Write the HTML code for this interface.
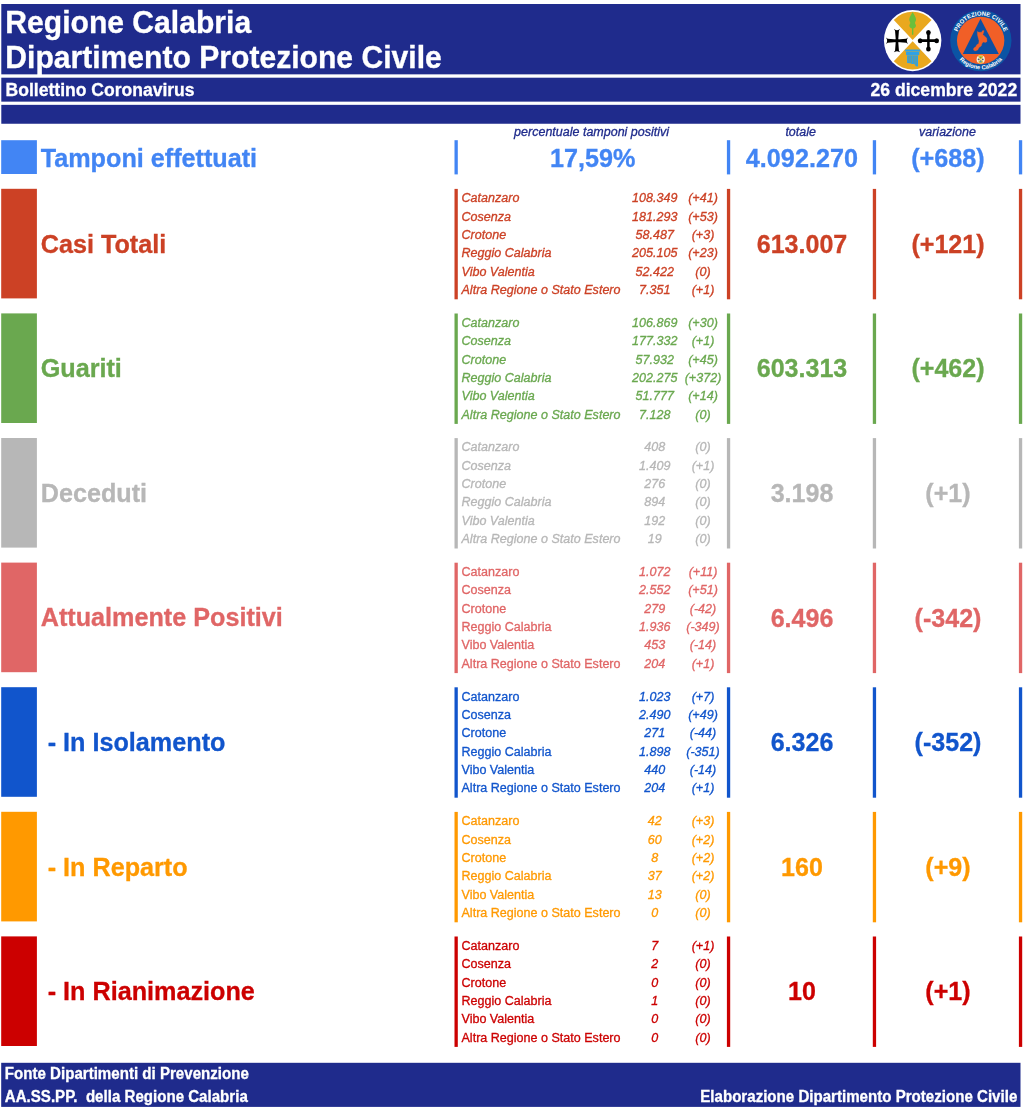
<!DOCTYPE html>
<html lang="it"><head><meta charset="utf-8"><title>Bollettino Coronavirus - Regione Calabria</title>
<style>
html,body{margin:0;padding:0;background:#fff;overflow:hidden;}
body{width:1024px;height:1108px;position:relative;overflow:hidden;font-family:"Liberation Sans",sans-serif;}
#bg{position:absolute;left:0;top:0;}
#tx{position:absolute;left:0;top:0;width:1024px;height:1108px;overflow:hidden;will-change:transform;}
.t{position:absolute;white-space:nowrap;transform-origin:0 0;}
</style></head><body>
<svg id="bg" width="1024" height="1108" viewBox="0 0 1024 1108">
<rect x="1.30" y="4.00" width="1019.20" height="70.35" fill="#1f2b8c"/>
<rect x="1.30" y="77.70" width="1019.20" height="23.95" fill="#1f2b8c"/>
<rect x="1.30" y="104.85" width="1019.20" height="18.90" fill="#1f2b8c"/>
<rect x="1.20" y="140.20" width="35.70" height="33.80" fill="#4285f4"/>
<rect x="454.50" y="140.20" width="3.30" height="34.20" fill="#4285f4"/>
<rect x="726.90" y="140.20" width="3.30" height="34.20" fill="#4285f4"/>
<rect x="872.80" y="140.20" width="3.30" height="34.20" fill="#4285f4"/>
<rect x="1018.90" y="140.20" width="3.30" height="34.20" fill="#4285f4"/>
<rect x="1.20" y="188.80" width="35.70" height="109.60" fill="#cc4125"/>
<rect x="454.50" y="188.90" width="3.30" height="110.40" fill="#cc4125"/>
<rect x="726.90" y="188.90" width="3.30" height="110.40" fill="#cc4125"/>
<rect x="872.80" y="188.90" width="3.30" height="110.40" fill="#cc4125"/>
<rect x="1018.90" y="188.90" width="3.30" height="110.40" fill="#cc4125"/>
<rect x="1.20" y="313.40" width="35.70" height="109.60" fill="#6aa84f"/>
<rect x="454.50" y="313.50" width="3.30" height="110.40" fill="#6aa84f"/>
<rect x="726.90" y="313.50" width="3.30" height="110.40" fill="#6aa84f"/>
<rect x="872.80" y="313.50" width="3.30" height="110.40" fill="#6aa84f"/>
<rect x="1018.90" y="313.50" width="3.30" height="110.40" fill="#6aa84f"/>
<rect x="1.20" y="438.00" width="35.70" height="109.60" fill="#b7b7b7"/>
<rect x="454.50" y="438.10" width="3.30" height="110.40" fill="#b7b7b7"/>
<rect x="726.90" y="438.10" width="3.30" height="110.40" fill="#b7b7b7"/>
<rect x="872.80" y="438.10" width="3.30" height="110.40" fill="#b7b7b7"/>
<rect x="1018.90" y="438.10" width="3.30" height="110.40" fill="#b7b7b7"/>
<rect x="1.20" y="562.60" width="35.70" height="109.60" fill="#e06666"/>
<rect x="454.50" y="562.70" width="3.30" height="110.40" fill="#e06666"/>
<rect x="726.90" y="562.70" width="3.30" height="110.40" fill="#e06666"/>
<rect x="872.80" y="562.70" width="3.30" height="110.40" fill="#e06666"/>
<rect x="1018.90" y="562.70" width="3.30" height="110.40" fill="#e06666"/>
<rect x="1.20" y="687.20" width="35.70" height="109.60" fill="#1155cc"/>
<rect x="454.50" y="687.30" width="3.30" height="110.40" fill="#1155cc"/>
<rect x="726.90" y="687.30" width="3.30" height="110.40" fill="#1155cc"/>
<rect x="872.80" y="687.30" width="3.30" height="110.40" fill="#1155cc"/>
<rect x="1018.90" y="687.30" width="3.30" height="110.40" fill="#1155cc"/>
<rect x="1.20" y="811.80" width="35.70" height="109.60" fill="#ff9900"/>
<rect x="454.50" y="811.90" width="3.30" height="110.40" fill="#ff9900"/>
<rect x="726.90" y="811.90" width="3.30" height="110.40" fill="#ff9900"/>
<rect x="872.80" y="811.90" width="3.30" height="110.40" fill="#ff9900"/>
<rect x="1018.90" y="811.90" width="3.30" height="110.40" fill="#ff9900"/>
<rect x="1.20" y="936.40" width="35.70" height="109.60" fill="#cc0000"/>
<rect x="454.50" y="936.50" width="3.30" height="110.40" fill="#cc0000"/>
<rect x="726.90" y="936.50" width="3.30" height="110.40" fill="#cc0000"/>
<rect x="872.80" y="936.50" width="3.30" height="110.40" fill="#cc0000"/>
<rect x="1018.90" y="936.50" width="3.30" height="110.40" fill="#cc0000"/>
<rect x="1.20" y="1062.80" width="1019.30" height="44.10" fill="#1f2b8c"/>
<g transform="translate(912.65,40.6) scale(0.938,1)">
<ellipse cx="0" cy="0" rx="30.6" ry="30.6" fill="#fff"/>
<path d="M0,-0.6 L-20.1,-20.7 A28.6,28.6 0 0 1 20.1,-20.7 Z" fill="#e9a81e"/>
<path d="M0,0.6 L-20.1,20.7 A28.6,28.6 0 0 0 20.1,20.7 Z" fill="#e9a81e"/>
<path d="M0,-28.6 C1.2,-26.4 3.7,-23.4 3.6,-21.2 C3.5,-19.4 2.5,-18.6 2.5,-17.7 C2.5,-16.9 3.6,-16.2 3.5,-14.8 C3.4,-13 1.6,-12.3 0.75,-12.1 L0.75,-5.8 L-0.75,-5.8 L-0.75,-12.1 C-1.6,-12.3 -3.4,-13 -3.5,-14.8 C-3.6,-16.2 -2.5,-16.9 -2.5,-17.7 C-2.5,-18.6 -3.5,-19.4 -3.6,-21.2 C-3.7,-23.4 -1.2,-26.4 0,-28.6 Z" fill="#6abf3b"/>
<g transform="translate(-16.7,0.1)" fill="#000"><path transform="rotate(0)" d="M0,-1.25 L9.9,-2.05 L11.6,-3.3 L10.7,-1.3 L10.5,0 L10.7,1.3 L11.6,3.3 L9.9,2.05 L0,1.25 Z"/><path transform="rotate(90)" d="M0,-1.25 L9.9,-2.05 L11.6,-3.3 L10.7,-1.3 L10.5,0 L10.7,1.3 L11.6,3.3 L9.9,2.05 L0,1.25 Z"/><path transform="rotate(180)" d="M0,-1.25 L9.9,-2.05 L11.6,-3.3 L10.7,-1.3 L10.5,0 L10.7,1.3 L11.6,3.3 L9.9,2.05 L0,1.25 Z"/><path transform="rotate(270)" d="M0,-1.25 L9.9,-2.05 L11.6,-3.3 L10.7,-1.3 L10.5,0 L10.7,1.3 L11.6,3.3 L9.9,2.05 L0,1.25 Z"/><circle r="1.9"/></g>
<g transform="translate(16.8,0.1)" fill="#000" stroke="#000">
<path d="M-8.6,0 L8.6,0 M0,-8.2 L0,8.2" stroke-width="2.7" fill="none"/>
<circle cx="-8.8" cy="0" r="2.5" stroke="none"/><circle cx="8.8" cy="0" r="2.5" stroke="none"/>
<circle cx="0" cy="-8.3" r="2.5" stroke="none"/><circle cx="0" cy="8.3" r="2.5" stroke="none"/>
</g>
<path d="M-7.9,9.0 L7.9,9.0 L7.9,10.9 L7.0,11.1 L7.0,14.4 L5.7,14.7 L5.7,25.9 L3.4,25.6 L1.8,23.5 L-0.6,23.3 L-2.6,22.6 L-5.9,22.3 L-5.9,14.7 L-7.0,14.4 L-7.0,11.1 L-7.9,10.9 Z" fill="#2da2e8"/><path d="M-7.6,10.9 L7.6,10.9" stroke="#b9a854" stroke-width="0.55"/><path d="M-6.2,14.75 L6.2,14.75" stroke="#b9a854" stroke-width="0.5"/>
<path d="M-3.9,15.4 L-3.9,21.8 M-1.4,15.4 L-1.4,22.4 M1.2,15.4 L1.2,22.8 M3.6,15.4 L3.6,24.6" stroke="#7d9b7a" stroke-width="0.9" fill="none"/>
</g>
<g transform="translate(980.85,40.6)">
<circle cx="0" cy="0" r="30.65" fill="#0b54a4"/>
<circle cx="-0.2" cy="-0.1" r="23.7" fill="#f15f27"/>
<path d="M-0.35,-21.8 L17.95,13.4 L-18.05,13.4 Z" fill="#0d4fa1"/>
<path d="M-3.52,-9.07 L-1.91,-8.37 L0.67,-8.37 L1.83,-10.04 L3.24,-9.91 L2.66,-7.79 L2.02,-6.17 L3.63,-4.56 L5.82,-2.63 L6.21,0.92 L4.53,2.01 L2.34,1.37 L1.05,3.24 L0.41,5.43 L-1.78,6.85 L-3.07,9.29 L-5.78,10.46 L-7.39,9.42 L-7.07,7.49 L-5.13,6.07 L-4.10,4.14 L-2.17,2.85 L-1.85,0.27 L-2.56,-2.31 L-3.39,-5.53 Z" fill="#f15f27" stroke="#f15f27" stroke-width="0.3" stroke-linejoin="round"/>
<g transform="translate(-0.15,18.8)">
<circle r="4.1" fill="#f4f1e4"/>
<path d="M0,0 L-2.7,-2.7 A3.8,3.8 0 0 1 2.7,-2.7 Z M0,0 L-2.7,2.7 A3.8,3.8 0 0 0 2.7,2.7 Z" fill="#e3b52a"/>
<circle cx="0" cy="-1.9" r="0.8" fill="#5aa54a"/><circle cx="0" cy="2" r="0.9" fill="#3d8fc4"/>
<path d="M-3,0 L-1,0 M1,0 L3,0 M-2,-1 L-2,1 M2,-1 L2,1" stroke="#333" stroke-width="0.6"/>
</g>
<path id="arcT" d="M-23.1,-9.35 A24.9,24.9 0 0 1 23.1,-9.35" fill="none"/>
<path id="arcB" d="M-24.9,14.4 A28.8,28.8 0 0 0 24.9,14.4" fill="none"/>
<text font-family="Liberation Sans, sans-serif" font-weight="bold" font-size="6.0" fill="#fff" letter-spacing="0"><textPath href="#arcT" startOffset="50%" text-anchor="middle">PROTEZIONE CIVILE</textPath></text>
<text font-family="Liberation Sans, sans-serif" font-weight="bold" font-size="5.9" fill="#fff"><textPath href="#arcB" startOffset="50%" text-anchor="middle">Regione Calabria</textPath></text>
</g>

</svg>
<div id="tx">
<div class="t" style="left:5.30px;top:4.16px;width:400px;font-size:30.1px;line-height:36.12px;color:#fff;font-weight:bold;font-style:normal;text-align:left;transform:scaleY(1.03);-webkit-text-stroke:0.3px #fff;">Regione Calabria</div>
<div class="t" style="left:5.30px;top:39.36px;width:600px;font-size:30.1px;line-height:36.12px;color:#fff;font-weight:bold;font-style:normal;text-align:left;transform:scaleY(1.03);-webkit-text-stroke:0.3px #fff;">Dipartimento Protezione Civile</div>
<div class="t" style="left:5.60px;top:78.84px;width:400px;font-size:17.55px;line-height:21.06px;color:#fff;font-weight:bold;font-style:normal;text-align:left;transform:scaleY(1.045);-webkit-text-stroke:0.3px #fff;">Bollettino Coronavirus</div>
<div class="t" style="left:617.20px;top:78.89px;width:400px;font-size:17.6px;line-height:21.12px;color:#fff;font-weight:bold;font-style:normal;text-align:right;transform:scaleY(1.045);-webkit-text-stroke:0.3px #fff;">26 dicembre 2022</div>
<div class="t" style="left:391.60px;top:124.74px;width:400px;font-size:12.5px;line-height:15.00px;color:#1f2b8c;font-weight:normal;font-style:italic;text-align:center;transform:scaleY(1.045);-webkit-text-stroke:0.3px #1f2b8c;">percentuale tamponi positivi</div>
<div class="t" style="left:600.70px;top:124.74px;width:400px;font-size:12.5px;line-height:15.00px;color:#1f2b8c;font-weight:normal;font-style:italic;text-align:center;transform:scaleY(1.045);-webkit-text-stroke:0.3px #1f2b8c;">totale</div>
<div class="t" style="left:747.50px;top:124.74px;width:400px;font-size:12.5px;line-height:15.00px;color:#1f2b8c;font-weight:normal;font-style:italic;text-align:center;transform:scaleY(1.045);-webkit-text-stroke:0.3px #1f2b8c;">variazione</div>
<div class="t" style="left:40.70px;top:141.77px;width:400px;font-size:25.2px;line-height:30.24px;color:#4285f4;font-weight:bold;font-style:normal;text-align:left;transform:scaleY(1.045);-webkit-text-stroke:0.3px #4285f4;">Tamponi effettuati</div>
<div class="t" style="left:392.80px;top:141.67px;width:400px;font-size:25.2px;line-height:30.24px;color:#4285f4;font-weight:bold;font-style:normal;text-align:center;transform:scaleY(1.045);-webkit-text-stroke:0.3px #4285f4;">17,59%</div>
<div class="t" style="left:601.90px;top:141.67px;width:400px;font-size:25.2px;line-height:30.24px;color:#4285f4;font-weight:bold;font-style:normal;text-align:center;transform:scaleY(1.045);-webkit-text-stroke:0.3px #4285f4;">4.092.270</div>
<div class="t" style="left:748.00px;top:141.67px;width:400px;font-size:25.2px;line-height:30.24px;color:#4285f4;font-weight:bold;font-style:normal;text-align:center;transform:scaleY(1.045);-webkit-text-stroke:0.3px #4285f4;">(+688)</div>
<div class="t" style="left:40.70px;top:227.67px;width:400px;font-size:25.2px;line-height:30.24px;color:#cc4125;font-weight:bold;font-style:normal;text-align:left;transform:scaleY(1.045);-webkit-text-stroke:0.3px #cc4125;">Casi Totali</div>
<div class="t" style="left:602.00px;top:227.82px;width:400px;font-size:25.05px;line-height:30.06px;color:#cc4125;font-weight:bold;font-style:normal;text-align:center;transform:scaleY(1.045);-webkit-text-stroke:0.3px #cc4125;">613.007</div>
<div class="t" style="left:748.00px;top:227.77px;width:400px;font-size:25.1px;line-height:30.12px;color:#cc4125;font-weight:bold;font-style:normal;text-align:center;transform:scaleY(1.045);-webkit-text-stroke:0.3px #cc4125;">(+121)</div>
<div class="t" style="left:461.50px;top:191.19px;width:400px;font-size:12.55px;line-height:15.06px;color:#cc4125;font-weight:normal;font-style:italic;text-align:left;transform:scaleY(1.045);-webkit-text-stroke:0.3px #cc4125;">Catanzaro</div>
<div class="t" style="left:604.70px;top:191.19px;width:100px;font-size:12.55px;line-height:15.06px;color:#cc4125;font-weight:normal;font-style:italic;text-align:center;transform:scaleY(1.045);-webkit-text-stroke:0.3px #cc4125;">108.349</div>
<div class="t" style="left:653.00px;top:191.19px;width:100px;font-size:12.55px;line-height:15.06px;color:#cc4125;font-weight:normal;font-style:italic;text-align:center;transform:scaleY(1.045);-webkit-text-stroke:0.3px #cc4125;">(+41)</div>
<div class="t" style="left:461.50px;top:209.55px;width:400px;font-size:12.55px;line-height:15.06px;color:#cc4125;font-weight:normal;font-style:italic;text-align:left;transform:scaleY(1.045);-webkit-text-stroke:0.3px #cc4125;">Cosenza</div>
<div class="t" style="left:604.70px;top:209.55px;width:100px;font-size:12.55px;line-height:15.06px;color:#cc4125;font-weight:normal;font-style:italic;text-align:center;transform:scaleY(1.045);-webkit-text-stroke:0.3px #cc4125;">181.293</div>
<div class="t" style="left:653.00px;top:209.55px;width:100px;font-size:12.55px;line-height:15.06px;color:#cc4125;font-weight:normal;font-style:italic;text-align:center;transform:scaleY(1.045);-webkit-text-stroke:0.3px #cc4125;">(+53)</div>
<div class="t" style="left:461.50px;top:227.91px;width:400px;font-size:12.55px;line-height:15.06px;color:#cc4125;font-weight:normal;font-style:italic;text-align:left;transform:scaleY(1.045);-webkit-text-stroke:0.3px #cc4125;">Crotone</div>
<div class="t" style="left:604.70px;top:227.91px;width:100px;font-size:12.55px;line-height:15.06px;color:#cc4125;font-weight:normal;font-style:italic;text-align:center;transform:scaleY(1.045);-webkit-text-stroke:0.3px #cc4125;">58.487</div>
<div class="t" style="left:653.00px;top:227.91px;width:100px;font-size:12.55px;line-height:15.06px;color:#cc4125;font-weight:normal;font-style:italic;text-align:center;transform:scaleY(1.045);-webkit-text-stroke:0.3px #cc4125;">(+3)</div>
<div class="t" style="left:461.50px;top:246.27px;width:400px;font-size:12.55px;line-height:15.06px;color:#cc4125;font-weight:normal;font-style:italic;text-align:left;transform:scaleY(1.045);-webkit-text-stroke:0.3px #cc4125;">Reggio Calabria</div>
<div class="t" style="left:604.70px;top:246.27px;width:100px;font-size:12.55px;line-height:15.06px;color:#cc4125;font-weight:normal;font-style:italic;text-align:center;transform:scaleY(1.045);-webkit-text-stroke:0.3px #cc4125;">205.105</div>
<div class="t" style="left:653.00px;top:246.27px;width:100px;font-size:12.55px;line-height:15.06px;color:#cc4125;font-weight:normal;font-style:italic;text-align:center;transform:scaleY(1.045);-webkit-text-stroke:0.3px #cc4125;">(+23)</div>
<div class="t" style="left:461.50px;top:264.63px;width:400px;font-size:12.55px;line-height:15.06px;color:#cc4125;font-weight:normal;font-style:italic;text-align:left;transform:scaleY(1.045);-webkit-text-stroke:0.3px #cc4125;">Vibo Valentia</div>
<div class="t" style="left:604.70px;top:264.63px;width:100px;font-size:12.55px;line-height:15.06px;color:#cc4125;font-weight:normal;font-style:italic;text-align:center;transform:scaleY(1.045);-webkit-text-stroke:0.3px #cc4125;">52.422</div>
<div class="t" style="left:653.00px;top:264.63px;width:100px;font-size:12.55px;line-height:15.06px;color:#cc4125;font-weight:normal;font-style:italic;text-align:center;transform:scaleY(1.045);-webkit-text-stroke:0.3px #cc4125;">(0)</div>
<div class="t" style="left:461.50px;top:282.99px;width:400px;font-size:12.55px;line-height:15.06px;color:#cc4125;font-weight:normal;font-style:italic;text-align:left;transform:scaleY(1.045);-webkit-text-stroke:0.3px #cc4125;">Altra Regione o Stato Estero</div>
<div class="t" style="left:604.70px;top:282.99px;width:100px;font-size:12.55px;line-height:15.06px;color:#cc4125;font-weight:normal;font-style:italic;text-align:center;transform:scaleY(1.045);-webkit-text-stroke:0.3px #cc4125;">7.351</div>
<div class="t" style="left:653.00px;top:282.99px;width:100px;font-size:12.55px;line-height:15.06px;color:#cc4125;font-weight:normal;font-style:italic;text-align:center;transform:scaleY(1.045);-webkit-text-stroke:0.3px #cc4125;">(+1)</div>
<div class="t" style="left:40.70px;top:352.27px;width:400px;font-size:25.2px;line-height:30.24px;color:#6aa84f;font-weight:bold;font-style:normal;text-align:left;transform:scaleY(1.045);-webkit-text-stroke:0.3px #6aa84f;">Guariti</div>
<div class="t" style="left:602.00px;top:352.42px;width:400px;font-size:25.05px;line-height:30.06px;color:#6aa84f;font-weight:bold;font-style:normal;text-align:center;transform:scaleY(1.045);-webkit-text-stroke:0.3px #6aa84f;">603.313</div>
<div class="t" style="left:748.00px;top:352.37px;width:400px;font-size:25.1px;line-height:30.12px;color:#6aa84f;font-weight:bold;font-style:normal;text-align:center;transform:scaleY(1.045);-webkit-text-stroke:0.3px #6aa84f;">(+462)</div>
<div class="t" style="left:461.50px;top:315.79px;width:400px;font-size:12.55px;line-height:15.06px;color:#6aa84f;font-weight:normal;font-style:italic;text-align:left;transform:scaleY(1.045);-webkit-text-stroke:0.3px #6aa84f;">Catanzaro</div>
<div class="t" style="left:604.70px;top:315.79px;width:100px;font-size:12.55px;line-height:15.06px;color:#6aa84f;font-weight:normal;font-style:italic;text-align:center;transform:scaleY(1.045);-webkit-text-stroke:0.3px #6aa84f;">106.869</div>
<div class="t" style="left:653.00px;top:315.79px;width:100px;font-size:12.55px;line-height:15.06px;color:#6aa84f;font-weight:normal;font-style:italic;text-align:center;transform:scaleY(1.045);-webkit-text-stroke:0.3px #6aa84f;">(+30)</div>
<div class="t" style="left:461.50px;top:334.15px;width:400px;font-size:12.55px;line-height:15.06px;color:#6aa84f;font-weight:normal;font-style:italic;text-align:left;transform:scaleY(1.045);-webkit-text-stroke:0.3px #6aa84f;">Cosenza</div>
<div class="t" style="left:604.70px;top:334.15px;width:100px;font-size:12.55px;line-height:15.06px;color:#6aa84f;font-weight:normal;font-style:italic;text-align:center;transform:scaleY(1.045);-webkit-text-stroke:0.3px #6aa84f;">177.332</div>
<div class="t" style="left:653.00px;top:334.15px;width:100px;font-size:12.55px;line-height:15.06px;color:#6aa84f;font-weight:normal;font-style:italic;text-align:center;transform:scaleY(1.045);-webkit-text-stroke:0.3px #6aa84f;">(+1)</div>
<div class="t" style="left:461.50px;top:352.51px;width:400px;font-size:12.55px;line-height:15.06px;color:#6aa84f;font-weight:normal;font-style:italic;text-align:left;transform:scaleY(1.045);-webkit-text-stroke:0.3px #6aa84f;">Crotone</div>
<div class="t" style="left:604.70px;top:352.51px;width:100px;font-size:12.55px;line-height:15.06px;color:#6aa84f;font-weight:normal;font-style:italic;text-align:center;transform:scaleY(1.045);-webkit-text-stroke:0.3px #6aa84f;">57.932</div>
<div class="t" style="left:653.00px;top:352.51px;width:100px;font-size:12.55px;line-height:15.06px;color:#6aa84f;font-weight:normal;font-style:italic;text-align:center;transform:scaleY(1.045);-webkit-text-stroke:0.3px #6aa84f;">(+45)</div>
<div class="t" style="left:461.50px;top:370.87px;width:400px;font-size:12.55px;line-height:15.06px;color:#6aa84f;font-weight:normal;font-style:italic;text-align:left;transform:scaleY(1.045);-webkit-text-stroke:0.3px #6aa84f;">Reggio Calabria</div>
<div class="t" style="left:604.70px;top:370.87px;width:100px;font-size:12.55px;line-height:15.06px;color:#6aa84f;font-weight:normal;font-style:italic;text-align:center;transform:scaleY(1.045);-webkit-text-stroke:0.3px #6aa84f;">202.275</div>
<div class="t" style="left:653.00px;top:370.87px;width:100px;font-size:12.55px;line-height:15.06px;color:#6aa84f;font-weight:normal;font-style:italic;text-align:center;transform:scaleY(1.045);-webkit-text-stroke:0.3px #6aa84f;">(+372)</div>
<div class="t" style="left:461.50px;top:389.23px;width:400px;font-size:12.55px;line-height:15.06px;color:#6aa84f;font-weight:normal;font-style:italic;text-align:left;transform:scaleY(1.045);-webkit-text-stroke:0.3px #6aa84f;">Vibo Valentia</div>
<div class="t" style="left:604.70px;top:389.23px;width:100px;font-size:12.55px;line-height:15.06px;color:#6aa84f;font-weight:normal;font-style:italic;text-align:center;transform:scaleY(1.045);-webkit-text-stroke:0.3px #6aa84f;">51.777</div>
<div class="t" style="left:653.00px;top:389.23px;width:100px;font-size:12.55px;line-height:15.06px;color:#6aa84f;font-weight:normal;font-style:italic;text-align:center;transform:scaleY(1.045);-webkit-text-stroke:0.3px #6aa84f;">(+14)</div>
<div class="t" style="left:461.50px;top:407.59px;width:400px;font-size:12.55px;line-height:15.06px;color:#6aa84f;font-weight:normal;font-style:italic;text-align:left;transform:scaleY(1.045);-webkit-text-stroke:0.3px #6aa84f;">Altra Regione o Stato Estero</div>
<div class="t" style="left:604.70px;top:407.59px;width:100px;font-size:12.55px;line-height:15.06px;color:#6aa84f;font-weight:normal;font-style:italic;text-align:center;transform:scaleY(1.045);-webkit-text-stroke:0.3px #6aa84f;">7.128</div>
<div class="t" style="left:653.00px;top:407.59px;width:100px;font-size:12.55px;line-height:15.06px;color:#6aa84f;font-weight:normal;font-style:italic;text-align:center;transform:scaleY(1.045);-webkit-text-stroke:0.3px #6aa84f;">(0)</div>
<div class="t" style="left:40.70px;top:476.87px;width:400px;font-size:25.2px;line-height:30.24px;color:#b7b7b7;font-weight:bold;font-style:normal;text-align:left;transform:scaleY(1.045);-webkit-text-stroke:0.3px #b7b7b7;">Deceduti</div>
<div class="t" style="left:602.00px;top:477.02px;width:400px;font-size:25.05px;line-height:30.06px;color:#b7b7b7;font-weight:bold;font-style:normal;text-align:center;transform:scaleY(1.045);-webkit-text-stroke:0.3px #b7b7b7;">3.198</div>
<div class="t" style="left:748.00px;top:476.97px;width:400px;font-size:25.1px;line-height:30.12px;color:#b7b7b7;font-weight:bold;font-style:normal;text-align:center;transform:scaleY(1.045);-webkit-text-stroke:0.3px #b7b7b7;">(+1)</div>
<div class="t" style="left:461.50px;top:440.39px;width:400px;font-size:12.55px;line-height:15.06px;color:#b7b7b7;font-weight:normal;font-style:italic;text-align:left;transform:scaleY(1.045);-webkit-text-stroke:0.3px #b7b7b7;">Catanzaro</div>
<div class="t" style="left:604.70px;top:440.39px;width:100px;font-size:12.55px;line-height:15.06px;color:#b7b7b7;font-weight:normal;font-style:italic;text-align:center;transform:scaleY(1.045);-webkit-text-stroke:0.3px #b7b7b7;">408</div>
<div class="t" style="left:653.00px;top:440.39px;width:100px;font-size:12.55px;line-height:15.06px;color:#b7b7b7;font-weight:normal;font-style:italic;text-align:center;transform:scaleY(1.045);-webkit-text-stroke:0.3px #b7b7b7;">(0)</div>
<div class="t" style="left:461.50px;top:458.75px;width:400px;font-size:12.55px;line-height:15.06px;color:#b7b7b7;font-weight:normal;font-style:italic;text-align:left;transform:scaleY(1.045);-webkit-text-stroke:0.3px #b7b7b7;">Cosenza</div>
<div class="t" style="left:604.70px;top:458.75px;width:100px;font-size:12.55px;line-height:15.06px;color:#b7b7b7;font-weight:normal;font-style:italic;text-align:center;transform:scaleY(1.045);-webkit-text-stroke:0.3px #b7b7b7;">1.409</div>
<div class="t" style="left:653.00px;top:458.75px;width:100px;font-size:12.55px;line-height:15.06px;color:#b7b7b7;font-weight:normal;font-style:italic;text-align:center;transform:scaleY(1.045);-webkit-text-stroke:0.3px #b7b7b7;">(+1)</div>
<div class="t" style="left:461.50px;top:477.11px;width:400px;font-size:12.55px;line-height:15.06px;color:#b7b7b7;font-weight:normal;font-style:italic;text-align:left;transform:scaleY(1.045);-webkit-text-stroke:0.3px #b7b7b7;">Crotone</div>
<div class="t" style="left:604.70px;top:477.11px;width:100px;font-size:12.55px;line-height:15.06px;color:#b7b7b7;font-weight:normal;font-style:italic;text-align:center;transform:scaleY(1.045);-webkit-text-stroke:0.3px #b7b7b7;">276</div>
<div class="t" style="left:653.00px;top:477.11px;width:100px;font-size:12.55px;line-height:15.06px;color:#b7b7b7;font-weight:normal;font-style:italic;text-align:center;transform:scaleY(1.045);-webkit-text-stroke:0.3px #b7b7b7;">(0)</div>
<div class="t" style="left:461.50px;top:495.47px;width:400px;font-size:12.55px;line-height:15.06px;color:#b7b7b7;font-weight:normal;font-style:italic;text-align:left;transform:scaleY(1.045);-webkit-text-stroke:0.3px #b7b7b7;">Reggio Calabria</div>
<div class="t" style="left:604.70px;top:495.47px;width:100px;font-size:12.55px;line-height:15.06px;color:#b7b7b7;font-weight:normal;font-style:italic;text-align:center;transform:scaleY(1.045);-webkit-text-stroke:0.3px #b7b7b7;">894</div>
<div class="t" style="left:653.00px;top:495.47px;width:100px;font-size:12.55px;line-height:15.06px;color:#b7b7b7;font-weight:normal;font-style:italic;text-align:center;transform:scaleY(1.045);-webkit-text-stroke:0.3px #b7b7b7;">(0)</div>
<div class="t" style="left:461.50px;top:513.83px;width:400px;font-size:12.55px;line-height:15.06px;color:#b7b7b7;font-weight:normal;font-style:italic;text-align:left;transform:scaleY(1.045);-webkit-text-stroke:0.3px #b7b7b7;">Vibo Valentia</div>
<div class="t" style="left:604.70px;top:513.83px;width:100px;font-size:12.55px;line-height:15.06px;color:#b7b7b7;font-weight:normal;font-style:italic;text-align:center;transform:scaleY(1.045);-webkit-text-stroke:0.3px #b7b7b7;">192</div>
<div class="t" style="left:653.00px;top:513.83px;width:100px;font-size:12.55px;line-height:15.06px;color:#b7b7b7;font-weight:normal;font-style:italic;text-align:center;transform:scaleY(1.045);-webkit-text-stroke:0.3px #b7b7b7;">(0)</div>
<div class="t" style="left:461.50px;top:532.19px;width:400px;font-size:12.55px;line-height:15.06px;color:#b7b7b7;font-weight:normal;font-style:italic;text-align:left;transform:scaleY(1.045);-webkit-text-stroke:0.3px #b7b7b7;">Altra Regione o Stato Estero</div>
<div class="t" style="left:604.70px;top:532.19px;width:100px;font-size:12.55px;line-height:15.06px;color:#b7b7b7;font-weight:normal;font-style:italic;text-align:center;transform:scaleY(1.045);-webkit-text-stroke:0.3px #b7b7b7;">19</div>
<div class="t" style="left:653.00px;top:532.19px;width:100px;font-size:12.55px;line-height:15.06px;color:#b7b7b7;font-weight:normal;font-style:italic;text-align:center;transform:scaleY(1.045);-webkit-text-stroke:0.3px #b7b7b7;">(0)</div>
<div class="t" style="left:40.70px;top:601.47px;width:400px;font-size:25.2px;line-height:30.24px;color:#e06666;font-weight:bold;font-style:normal;text-align:left;transform:scaleY(1.045);-webkit-text-stroke:0.3px #e06666;">Attualmente Positivi</div>
<div class="t" style="left:602.00px;top:601.62px;width:400px;font-size:25.05px;line-height:30.06px;color:#e06666;font-weight:bold;font-style:normal;text-align:center;transform:scaleY(1.045);-webkit-text-stroke:0.3px #e06666;">6.496</div>
<div class="t" style="left:748.00px;top:601.57px;width:400px;font-size:25.1px;line-height:30.12px;color:#e06666;font-weight:bold;font-style:normal;text-align:center;transform:scaleY(1.045);-webkit-text-stroke:0.3px #e06666;">(-342)</div>
<div class="t" style="left:461.50px;top:564.99px;width:400px;font-size:12.55px;line-height:15.06px;color:#e06666;font-weight:normal;font-style:normal;text-align:left;transform:scaleY(1.045);-webkit-text-stroke:0.3px #e06666;">Catanzaro</div>
<div class="t" style="left:604.70px;top:564.99px;width:100px;font-size:12.55px;line-height:15.06px;color:#e06666;font-weight:normal;font-style:italic;text-align:center;transform:scaleY(1.045);-webkit-text-stroke:0.3px #e06666;">1.072</div>
<div class="t" style="left:653.00px;top:564.99px;width:100px;font-size:12.55px;line-height:15.06px;color:#e06666;font-weight:normal;font-style:italic;text-align:center;transform:scaleY(1.045);-webkit-text-stroke:0.3px #e06666;">(+11)</div>
<div class="t" style="left:461.50px;top:583.35px;width:400px;font-size:12.55px;line-height:15.06px;color:#e06666;font-weight:normal;font-style:normal;text-align:left;transform:scaleY(1.045);-webkit-text-stroke:0.3px #e06666;">Cosenza</div>
<div class="t" style="left:604.70px;top:583.35px;width:100px;font-size:12.55px;line-height:15.06px;color:#e06666;font-weight:normal;font-style:italic;text-align:center;transform:scaleY(1.045);-webkit-text-stroke:0.3px #e06666;">2.552</div>
<div class="t" style="left:653.00px;top:583.35px;width:100px;font-size:12.55px;line-height:15.06px;color:#e06666;font-weight:normal;font-style:italic;text-align:center;transform:scaleY(1.045);-webkit-text-stroke:0.3px #e06666;">(+51)</div>
<div class="t" style="left:461.50px;top:601.71px;width:400px;font-size:12.55px;line-height:15.06px;color:#e06666;font-weight:normal;font-style:normal;text-align:left;transform:scaleY(1.045);-webkit-text-stroke:0.3px #e06666;">Crotone</div>
<div class="t" style="left:604.70px;top:601.71px;width:100px;font-size:12.55px;line-height:15.06px;color:#e06666;font-weight:normal;font-style:italic;text-align:center;transform:scaleY(1.045);-webkit-text-stroke:0.3px #e06666;">279</div>
<div class="t" style="left:653.00px;top:601.71px;width:100px;font-size:12.55px;line-height:15.06px;color:#e06666;font-weight:normal;font-style:italic;text-align:center;transform:scaleY(1.045);-webkit-text-stroke:0.3px #e06666;">(-42)</div>
<div class="t" style="left:461.50px;top:620.07px;width:400px;font-size:12.55px;line-height:15.06px;color:#e06666;font-weight:normal;font-style:normal;text-align:left;transform:scaleY(1.045);-webkit-text-stroke:0.3px #e06666;">Reggio Calabria</div>
<div class="t" style="left:604.70px;top:620.07px;width:100px;font-size:12.55px;line-height:15.06px;color:#e06666;font-weight:normal;font-style:italic;text-align:center;transform:scaleY(1.045);-webkit-text-stroke:0.3px #e06666;">1.936</div>
<div class="t" style="left:653.00px;top:620.07px;width:100px;font-size:12.55px;line-height:15.06px;color:#e06666;font-weight:normal;font-style:italic;text-align:center;transform:scaleY(1.045);-webkit-text-stroke:0.3px #e06666;">(-349)</div>
<div class="t" style="left:461.50px;top:638.43px;width:400px;font-size:12.55px;line-height:15.06px;color:#e06666;font-weight:normal;font-style:normal;text-align:left;transform:scaleY(1.045);-webkit-text-stroke:0.3px #e06666;">Vibo Valentia</div>
<div class="t" style="left:604.70px;top:638.43px;width:100px;font-size:12.55px;line-height:15.06px;color:#e06666;font-weight:normal;font-style:italic;text-align:center;transform:scaleY(1.045);-webkit-text-stroke:0.3px #e06666;">453</div>
<div class="t" style="left:653.00px;top:638.43px;width:100px;font-size:12.55px;line-height:15.06px;color:#e06666;font-weight:normal;font-style:italic;text-align:center;transform:scaleY(1.045);-webkit-text-stroke:0.3px #e06666;">(-14)</div>
<div class="t" style="left:461.50px;top:656.79px;width:400px;font-size:12.55px;line-height:15.06px;color:#e06666;font-weight:normal;font-style:normal;text-align:left;transform:scaleY(1.045);-webkit-text-stroke:0.3px #e06666;">Altra Regione o Stato Estero</div>
<div class="t" style="left:604.70px;top:656.79px;width:100px;font-size:12.55px;line-height:15.06px;color:#e06666;font-weight:normal;font-style:italic;text-align:center;transform:scaleY(1.045);-webkit-text-stroke:0.3px #e06666;">204</div>
<div class="t" style="left:653.00px;top:656.79px;width:100px;font-size:12.55px;line-height:15.06px;color:#e06666;font-weight:normal;font-style:italic;text-align:center;transform:scaleY(1.045);-webkit-text-stroke:0.3px #e06666;">(+1)</div>
<div class="t" style="left:40.70px;top:726.07px;width:400px;font-size:25.2px;line-height:30.24px;color:#1155cc;font-weight:bold;font-style:normal;text-align:left;transform:scaleY(1.045);-webkit-text-stroke:0.3px #1155cc;"> - In Isolamento</div>
<div class="t" style="left:602.00px;top:726.22px;width:400px;font-size:25.05px;line-height:30.06px;color:#1155cc;font-weight:bold;font-style:normal;text-align:center;transform:scaleY(1.045);-webkit-text-stroke:0.3px #1155cc;">6.326</div>
<div class="t" style="left:748.00px;top:726.17px;width:400px;font-size:25.1px;line-height:30.12px;color:#1155cc;font-weight:bold;font-style:normal;text-align:center;transform:scaleY(1.045);-webkit-text-stroke:0.3px #1155cc;">(-352)</div>
<div class="t" style="left:461.50px;top:689.59px;width:400px;font-size:12.55px;line-height:15.06px;color:#1155cc;font-weight:normal;font-style:normal;text-align:left;transform:scaleY(1.045);-webkit-text-stroke:0.3px #1155cc;">Catanzaro</div>
<div class="t" style="left:604.70px;top:689.59px;width:100px;font-size:12.55px;line-height:15.06px;color:#1155cc;font-weight:normal;font-style:italic;text-align:center;transform:scaleY(1.045);-webkit-text-stroke:0.3px #1155cc;">1.023</div>
<div class="t" style="left:653.00px;top:689.59px;width:100px;font-size:12.55px;line-height:15.06px;color:#1155cc;font-weight:normal;font-style:italic;text-align:center;transform:scaleY(1.045);-webkit-text-stroke:0.3px #1155cc;">(+7)</div>
<div class="t" style="left:461.50px;top:707.95px;width:400px;font-size:12.55px;line-height:15.06px;color:#1155cc;font-weight:normal;font-style:normal;text-align:left;transform:scaleY(1.045);-webkit-text-stroke:0.3px #1155cc;">Cosenza</div>
<div class="t" style="left:604.70px;top:707.95px;width:100px;font-size:12.55px;line-height:15.06px;color:#1155cc;font-weight:normal;font-style:italic;text-align:center;transform:scaleY(1.045);-webkit-text-stroke:0.3px #1155cc;">2.490</div>
<div class="t" style="left:653.00px;top:707.95px;width:100px;font-size:12.55px;line-height:15.06px;color:#1155cc;font-weight:normal;font-style:italic;text-align:center;transform:scaleY(1.045);-webkit-text-stroke:0.3px #1155cc;">(+49)</div>
<div class="t" style="left:461.50px;top:726.31px;width:400px;font-size:12.55px;line-height:15.06px;color:#1155cc;font-weight:normal;font-style:normal;text-align:left;transform:scaleY(1.045);-webkit-text-stroke:0.3px #1155cc;">Crotone</div>
<div class="t" style="left:604.70px;top:726.31px;width:100px;font-size:12.55px;line-height:15.06px;color:#1155cc;font-weight:normal;font-style:italic;text-align:center;transform:scaleY(1.045);-webkit-text-stroke:0.3px #1155cc;">271</div>
<div class="t" style="left:653.00px;top:726.31px;width:100px;font-size:12.55px;line-height:15.06px;color:#1155cc;font-weight:normal;font-style:italic;text-align:center;transform:scaleY(1.045);-webkit-text-stroke:0.3px #1155cc;">(-44)</div>
<div class="t" style="left:461.50px;top:744.67px;width:400px;font-size:12.55px;line-height:15.06px;color:#1155cc;font-weight:normal;font-style:normal;text-align:left;transform:scaleY(1.045);-webkit-text-stroke:0.3px #1155cc;">Reggio Calabria</div>
<div class="t" style="left:604.70px;top:744.67px;width:100px;font-size:12.55px;line-height:15.06px;color:#1155cc;font-weight:normal;font-style:italic;text-align:center;transform:scaleY(1.045);-webkit-text-stroke:0.3px #1155cc;">1.898</div>
<div class="t" style="left:653.00px;top:744.67px;width:100px;font-size:12.55px;line-height:15.06px;color:#1155cc;font-weight:normal;font-style:italic;text-align:center;transform:scaleY(1.045);-webkit-text-stroke:0.3px #1155cc;">(-351)</div>
<div class="t" style="left:461.50px;top:763.03px;width:400px;font-size:12.55px;line-height:15.06px;color:#1155cc;font-weight:normal;font-style:normal;text-align:left;transform:scaleY(1.045);-webkit-text-stroke:0.3px #1155cc;">Vibo Valentia</div>
<div class="t" style="left:604.70px;top:763.03px;width:100px;font-size:12.55px;line-height:15.06px;color:#1155cc;font-weight:normal;font-style:italic;text-align:center;transform:scaleY(1.045);-webkit-text-stroke:0.3px #1155cc;">440</div>
<div class="t" style="left:653.00px;top:763.03px;width:100px;font-size:12.55px;line-height:15.06px;color:#1155cc;font-weight:normal;font-style:italic;text-align:center;transform:scaleY(1.045);-webkit-text-stroke:0.3px #1155cc;">(-14)</div>
<div class="t" style="left:461.50px;top:781.39px;width:400px;font-size:12.55px;line-height:15.06px;color:#1155cc;font-weight:normal;font-style:normal;text-align:left;transform:scaleY(1.045);-webkit-text-stroke:0.3px #1155cc;">Altra Regione o Stato Estero</div>
<div class="t" style="left:604.70px;top:781.39px;width:100px;font-size:12.55px;line-height:15.06px;color:#1155cc;font-weight:normal;font-style:italic;text-align:center;transform:scaleY(1.045);-webkit-text-stroke:0.3px #1155cc;">204</div>
<div class="t" style="left:653.00px;top:781.39px;width:100px;font-size:12.55px;line-height:15.06px;color:#1155cc;font-weight:normal;font-style:italic;text-align:center;transform:scaleY(1.045);-webkit-text-stroke:0.3px #1155cc;">(+1)</div>
<div class="t" style="left:40.70px;top:850.67px;width:400px;font-size:25.2px;line-height:30.24px;color:#ff9900;font-weight:bold;font-style:normal;text-align:left;transform:scaleY(1.045);-webkit-text-stroke:0.3px #ff9900;"> - In Reparto</div>
<div class="t" style="left:602.00px;top:850.82px;width:400px;font-size:25.05px;line-height:30.06px;color:#ff9900;font-weight:bold;font-style:normal;text-align:center;transform:scaleY(1.045);-webkit-text-stroke:0.3px #ff9900;">160</div>
<div class="t" style="left:748.00px;top:850.77px;width:400px;font-size:25.1px;line-height:30.12px;color:#ff9900;font-weight:bold;font-style:normal;text-align:center;transform:scaleY(1.045);-webkit-text-stroke:0.3px #ff9900;">(+9)</div>
<div class="t" style="left:461.50px;top:814.19px;width:400px;font-size:12.55px;line-height:15.06px;color:#ff9900;font-weight:normal;font-style:normal;text-align:left;transform:scaleY(1.045);-webkit-text-stroke:0.3px #ff9900;">Catanzaro</div>
<div class="t" style="left:604.70px;top:814.19px;width:100px;font-size:12.55px;line-height:15.06px;color:#ff9900;font-weight:normal;font-style:italic;text-align:center;transform:scaleY(1.045);-webkit-text-stroke:0.3px #ff9900;">42</div>
<div class="t" style="left:653.00px;top:814.19px;width:100px;font-size:12.55px;line-height:15.06px;color:#ff9900;font-weight:normal;font-style:italic;text-align:center;transform:scaleY(1.045);-webkit-text-stroke:0.3px #ff9900;">(+3)</div>
<div class="t" style="left:461.50px;top:832.55px;width:400px;font-size:12.55px;line-height:15.06px;color:#ff9900;font-weight:normal;font-style:normal;text-align:left;transform:scaleY(1.045);-webkit-text-stroke:0.3px #ff9900;">Cosenza</div>
<div class="t" style="left:604.70px;top:832.55px;width:100px;font-size:12.55px;line-height:15.06px;color:#ff9900;font-weight:normal;font-style:italic;text-align:center;transform:scaleY(1.045);-webkit-text-stroke:0.3px #ff9900;">60</div>
<div class="t" style="left:653.00px;top:832.55px;width:100px;font-size:12.55px;line-height:15.06px;color:#ff9900;font-weight:normal;font-style:italic;text-align:center;transform:scaleY(1.045);-webkit-text-stroke:0.3px #ff9900;">(+2)</div>
<div class="t" style="left:461.50px;top:850.91px;width:400px;font-size:12.55px;line-height:15.06px;color:#ff9900;font-weight:normal;font-style:normal;text-align:left;transform:scaleY(1.045);-webkit-text-stroke:0.3px #ff9900;">Crotone</div>
<div class="t" style="left:604.70px;top:850.91px;width:100px;font-size:12.55px;line-height:15.06px;color:#ff9900;font-weight:normal;font-style:italic;text-align:center;transform:scaleY(1.045);-webkit-text-stroke:0.3px #ff9900;">8</div>
<div class="t" style="left:653.00px;top:850.91px;width:100px;font-size:12.55px;line-height:15.06px;color:#ff9900;font-weight:normal;font-style:italic;text-align:center;transform:scaleY(1.045);-webkit-text-stroke:0.3px #ff9900;">(+2)</div>
<div class="t" style="left:461.50px;top:869.27px;width:400px;font-size:12.55px;line-height:15.06px;color:#ff9900;font-weight:normal;font-style:normal;text-align:left;transform:scaleY(1.045);-webkit-text-stroke:0.3px #ff9900;">Reggio Calabria</div>
<div class="t" style="left:604.70px;top:869.27px;width:100px;font-size:12.55px;line-height:15.06px;color:#ff9900;font-weight:normal;font-style:italic;text-align:center;transform:scaleY(1.045);-webkit-text-stroke:0.3px #ff9900;">37</div>
<div class="t" style="left:653.00px;top:869.27px;width:100px;font-size:12.55px;line-height:15.06px;color:#ff9900;font-weight:normal;font-style:italic;text-align:center;transform:scaleY(1.045);-webkit-text-stroke:0.3px #ff9900;">(+2)</div>
<div class="t" style="left:461.50px;top:887.63px;width:400px;font-size:12.55px;line-height:15.06px;color:#ff9900;font-weight:normal;font-style:normal;text-align:left;transform:scaleY(1.045);-webkit-text-stroke:0.3px #ff9900;">Vibo Valentia</div>
<div class="t" style="left:604.70px;top:887.63px;width:100px;font-size:12.55px;line-height:15.06px;color:#ff9900;font-weight:normal;font-style:italic;text-align:center;transform:scaleY(1.045);-webkit-text-stroke:0.3px #ff9900;">13</div>
<div class="t" style="left:653.00px;top:887.63px;width:100px;font-size:12.55px;line-height:15.06px;color:#ff9900;font-weight:normal;font-style:italic;text-align:center;transform:scaleY(1.045);-webkit-text-stroke:0.3px #ff9900;">(0)</div>
<div class="t" style="left:461.50px;top:905.99px;width:400px;font-size:12.55px;line-height:15.06px;color:#ff9900;font-weight:normal;font-style:normal;text-align:left;transform:scaleY(1.045);-webkit-text-stroke:0.3px #ff9900;">Altra Regione o Stato Estero</div>
<div class="t" style="left:604.70px;top:905.99px;width:100px;font-size:12.55px;line-height:15.06px;color:#ff9900;font-weight:normal;font-style:italic;text-align:center;transform:scaleY(1.045);-webkit-text-stroke:0.3px #ff9900;">0</div>
<div class="t" style="left:653.00px;top:905.99px;width:100px;font-size:12.55px;line-height:15.06px;color:#ff9900;font-weight:normal;font-style:italic;text-align:center;transform:scaleY(1.045);-webkit-text-stroke:0.3px #ff9900;">(0)</div>
<div class="t" style="left:40.70px;top:975.27px;width:400px;font-size:25.2px;line-height:30.24px;color:#cc0000;font-weight:bold;font-style:normal;text-align:left;transform:scaleY(1.045);-webkit-text-stroke:0.3px #cc0000;"> - In Rianimazione</div>
<div class="t" style="left:602.00px;top:975.42px;width:400px;font-size:25.05px;line-height:30.06px;color:#cc0000;font-weight:bold;font-style:normal;text-align:center;transform:scaleY(1.045);-webkit-text-stroke:0.3px #cc0000;">10</div>
<div class="t" style="left:748.00px;top:975.37px;width:400px;font-size:25.1px;line-height:30.12px;color:#cc0000;font-weight:bold;font-style:normal;text-align:center;transform:scaleY(1.045);-webkit-text-stroke:0.3px #cc0000;">(+1)</div>
<div class="t" style="left:461.50px;top:938.79px;width:400px;font-size:12.55px;line-height:15.06px;color:#cc0000;font-weight:normal;font-style:normal;text-align:left;transform:scaleY(1.045);-webkit-text-stroke:0.3px #cc0000;">Catanzaro</div>
<div class="t" style="left:604.70px;top:938.79px;width:100px;font-size:12.55px;line-height:15.06px;color:#cc0000;font-weight:normal;font-style:italic;text-align:center;transform:scaleY(1.045);-webkit-text-stroke:0.3px #cc0000;">7</div>
<div class="t" style="left:653.00px;top:938.79px;width:100px;font-size:12.55px;line-height:15.06px;color:#cc0000;font-weight:normal;font-style:italic;text-align:center;transform:scaleY(1.045);-webkit-text-stroke:0.3px #cc0000;">(+1)</div>
<div class="t" style="left:461.50px;top:957.15px;width:400px;font-size:12.55px;line-height:15.06px;color:#cc0000;font-weight:normal;font-style:normal;text-align:left;transform:scaleY(1.045);-webkit-text-stroke:0.3px #cc0000;">Cosenza</div>
<div class="t" style="left:604.70px;top:957.15px;width:100px;font-size:12.55px;line-height:15.06px;color:#cc0000;font-weight:normal;font-style:italic;text-align:center;transform:scaleY(1.045);-webkit-text-stroke:0.3px #cc0000;">2</div>
<div class="t" style="left:653.00px;top:957.15px;width:100px;font-size:12.55px;line-height:15.06px;color:#cc0000;font-weight:normal;font-style:italic;text-align:center;transform:scaleY(1.045);-webkit-text-stroke:0.3px #cc0000;">(0)</div>
<div class="t" style="left:461.50px;top:975.51px;width:400px;font-size:12.55px;line-height:15.06px;color:#cc0000;font-weight:normal;font-style:normal;text-align:left;transform:scaleY(1.045);-webkit-text-stroke:0.3px #cc0000;">Crotone</div>
<div class="t" style="left:604.70px;top:975.51px;width:100px;font-size:12.55px;line-height:15.06px;color:#cc0000;font-weight:normal;font-style:italic;text-align:center;transform:scaleY(1.045);-webkit-text-stroke:0.3px #cc0000;">0</div>
<div class="t" style="left:653.00px;top:975.51px;width:100px;font-size:12.55px;line-height:15.06px;color:#cc0000;font-weight:normal;font-style:italic;text-align:center;transform:scaleY(1.045);-webkit-text-stroke:0.3px #cc0000;">(0)</div>
<div class="t" style="left:461.50px;top:993.87px;width:400px;font-size:12.55px;line-height:15.06px;color:#cc0000;font-weight:normal;font-style:normal;text-align:left;transform:scaleY(1.045);-webkit-text-stroke:0.3px #cc0000;">Reggio Calabria</div>
<div class="t" style="left:604.70px;top:993.87px;width:100px;font-size:12.55px;line-height:15.06px;color:#cc0000;font-weight:normal;font-style:italic;text-align:center;transform:scaleY(1.045);-webkit-text-stroke:0.3px #cc0000;">1</div>
<div class="t" style="left:653.00px;top:993.87px;width:100px;font-size:12.55px;line-height:15.06px;color:#cc0000;font-weight:normal;font-style:italic;text-align:center;transform:scaleY(1.045);-webkit-text-stroke:0.3px #cc0000;">(0)</div>
<div class="t" style="left:461.50px;top:1012.23px;width:400px;font-size:12.55px;line-height:15.06px;color:#cc0000;font-weight:normal;font-style:normal;text-align:left;transform:scaleY(1.045);-webkit-text-stroke:0.3px #cc0000;">Vibo Valentia</div>
<div class="t" style="left:604.70px;top:1012.23px;width:100px;font-size:12.55px;line-height:15.06px;color:#cc0000;font-weight:normal;font-style:italic;text-align:center;transform:scaleY(1.045);-webkit-text-stroke:0.3px #cc0000;">0</div>
<div class="t" style="left:653.00px;top:1012.23px;width:100px;font-size:12.55px;line-height:15.06px;color:#cc0000;font-weight:normal;font-style:italic;text-align:center;transform:scaleY(1.045);-webkit-text-stroke:0.3px #cc0000;">(0)</div>
<div class="t" style="left:461.50px;top:1030.59px;width:400px;font-size:12.55px;line-height:15.06px;color:#cc0000;font-weight:normal;font-style:normal;text-align:left;transform:scaleY(1.045);-webkit-text-stroke:0.3px #cc0000;">Altra Regione o Stato Estero</div>
<div class="t" style="left:604.70px;top:1030.59px;width:100px;font-size:12.55px;line-height:15.06px;color:#cc0000;font-weight:normal;font-style:italic;text-align:center;transform:scaleY(1.045);-webkit-text-stroke:0.3px #cc0000;">0</div>
<div class="t" style="left:653.00px;top:1030.59px;width:100px;font-size:12.55px;line-height:15.06px;color:#cc0000;font-weight:normal;font-style:italic;text-align:center;transform:scaleY(1.045);-webkit-text-stroke:0.3px #cc0000;">(0)</div>
<div class="t" style="left:4.80px;top:1063.96px;width:400px;font-size:15.1px;line-height:18.12px;color:#fff;font-weight:bold;font-style:normal;text-align:left;transform:scaleY(1.045);-webkit-text-stroke:0.3px #fff;">Fonte Dipartimenti di Prevenzione</div>
<div class="t" style="left:4.80px;top:1086.56px;width:400px;font-size:15.1px;line-height:18.12px;color:#fff;font-weight:bold;font-style:normal;text-align:left;transform:scaleY(1.045);-webkit-text-stroke:0.3px #fff;">AA.SS.PP.&nbsp; della Regione Calabria</div>
<div class="t" style="left:617.30px;top:1086.56px;width:400px;font-size:15.1px;line-height:18.12px;color:#fff;font-weight:bold;font-style:normal;text-align:right;transform:scaleY(1.045);-webkit-text-stroke:0.3px #fff;">Elaborazione Dipartimento Protezione Civile</div>
</div>
</body></html>
